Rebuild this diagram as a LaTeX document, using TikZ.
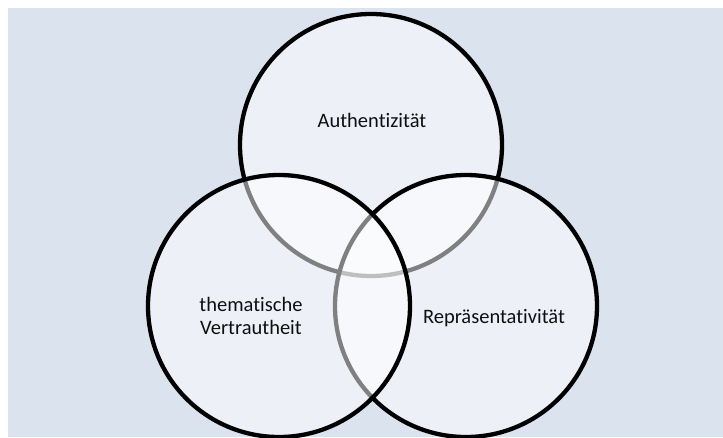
\documentclass[tikz,border=0pt]{standalone}
\usepackage{fontspec}
\setmainfont{Carlito}[Ligatures={NoCommon,NoContextual}]
\definecolor{bgblue}{RGB}{219,227,239}
\definecolor{txt}{RGB}{15,15,15}
\begin{document}
\begin{tikzpicture}[x=1pt,y=-1pt,
  venn/.style={circle, minimum size=262pt, inner sep=0pt, draw=black, line width=4.3pt, fill=white, fill opacity=0.5, draw opacity=1},
  lbl/.style={text=txt, font=\fontsize{20.5}{23.5}\selectfont, align=center, inner sep=0pt}]
\useasboundingbox (0,0) rectangle (723,437);
\fill[white] (0,0) rectangle (723,437);
\fill[bgblue] (8,8) rectangle (723,437);
\begin{scope}
\clip (8,8) rectangle (723,437);
\node[venn] (top) at (371,145) {};
\node[venn] (right) at (466,306) {};
\node[venn] (left) at (279,306) {};
\end{scope}
\node[lbl] (tA) at (372,120) {Authentizität};
\node[lbl] (tR) at (494,318) {Repräsentativität};
\node[lbl] (tV) at (251,316) {thematische\\Vertrautheit};
\end{tikzpicture}
\end{document}
